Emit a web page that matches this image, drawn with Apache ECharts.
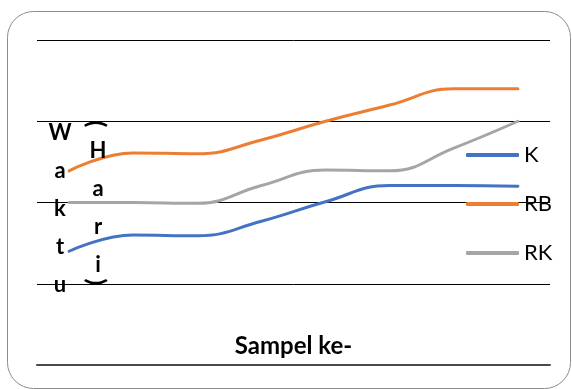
<!DOCTYPE html>
<html><head><meta charset="utf-8">
<script src="https://cdn.jsdelivr.net/npm/echarts@6/dist/echarts.min.js"></script>
<style>html,body{margin:0;padding:0;background:#fff}#c{width:572px;height:389px}</style>
</head><body><div id="c"></div>
<script>
const categories = ['1', '2', '3', '4', '5', '6', '7', '8'];
const seriesNames = ['K', 'RB', 'RK'];
const valuesK  = [7.0, 8.0, 7.95, 8.85, 10.05, 11.05, 11.05, 11.0];
const valuesRB = [11.95, 13.05, 13.0, 13.85, 15.0, 16.0, 17.0, 17.0];
const valuesRK = [10.0, 10.0, 9.95, 11.05, 12.0, 11.95, 13.35, 15.0];
const yMin = 0, yMax = 20, yInterval = 5;
const yTitleCol1 = ['W', 'a', 'k', 't', 'u'];
const yTitleCol2 = ['H', 'a', 'r', 'i'];
const yTitleOpen = '(', yTitleClose = ')';
const xTitle = 'Sampel ke-';
const colors = ['#4472C4', '#ED7D31', '#A5A5A5'];

const FONT = 'Lato';
const chart = echarts.init(document.getElementById('c'), null, {renderer: 'canvas'});

function mkSeries(name, data, color) {
  return {
    name: name, type: 'line', data: data, smooth: 0.45, symbol: 'none', showSymbol: false,
    lineStyle: {color: color, width: 3, cap: 'round'}, itemStyle: {color: color},
    emphasis: {disabled: true}
  };
}

const titleStyle = {fontFamily: FONT, fontWeight: 'bold', fontSize: 22, fill: '#000', align: 'center', verticalAlign: 'top', lineHeight: 38};
const parenStyle = {fontFamily: FONT, fontWeight: 'bold', fontSize: 25, fill: '#000', align: 'center', verticalAlign: 'middle'};

chart.setOption({
  animation: false,
  color: colors,
  grid: {left: 37, right: 22, top: 40, bottom: 24, containLabel: false, outerBoundsMode: 'none'},
  legend: {
    orient: 'vertical', left: 466, top: 144, padding: 0,
    itemWidth: 53, itemHeight: 4, itemGap: 27, icon: 'roundRect',
    data: seriesNames,
    textStyle: {fontFamily: FONT, fontSize: 22, color: '#000', lineHeight: 20, height: 20, verticalAlign: 'middle'},
    selectedMode: false
  },
  xAxis: {
    type: 'category', data: categories, boundaryGap: true,
    axisLine: {show: true, lineStyle: {color: '#4a4a4a', width: 2}},
    axisTick: {show: false}, axisLabel: {show: false},
    name: xTitle, nameLocation: 'middle', nameGap: -19,
    nameTextStyle: {fontFamily: FONT, fontWeight: 'bold', fontSize: 24, color: '#000', verticalAlign: 'middle'}
  },
  yAxis: {
    type: 'value', min: yMin, max: yMax, interval: yInterval,
    axisLine: {show: false}, axisTick: {show: false}, axisLabel: {show: false},
    splitLine: {show: true, lineStyle: {color: '#000', width: 1}}
  },
  series: [
    mkSeries(seriesNames[0], valuesK, colors[0]),
    mkSeries(seriesNames[1], valuesRB, colors[1]),
    mkSeries(seriesNames[2], valuesRK, colors[2])
  ],
  graphic: [
    {type: 'rect', shape: {x: 7.5, y: 11.5, width: 563, height: 377, r: 26},
     style: {fill: 'none', stroke: '#8c8c8c', lineWidth: 1}, silent: true, z: -10},
    {type: 'text', x: 60, y: 114, style: Object.assign({text: yTitleCol1.join('\n')}, titleStyle), z: 100},
    {type: 'text', x: 98, y: 132, style: Object.assign({text: yTitleCol2.join('\n')}, titleStyle), z: 100},
    {type: 'text', x: 96, y: 124, rotation: -Math.PI / 2, style: Object.assign({text: yTitleOpen}, parenStyle), z: 100},
    {type: 'text', x: 96, y: 282, rotation: -Math.PI / 2, style: Object.assign({text: yTitleClose}, parenStyle), z: 100}
  ]
});
</script></body></html>
